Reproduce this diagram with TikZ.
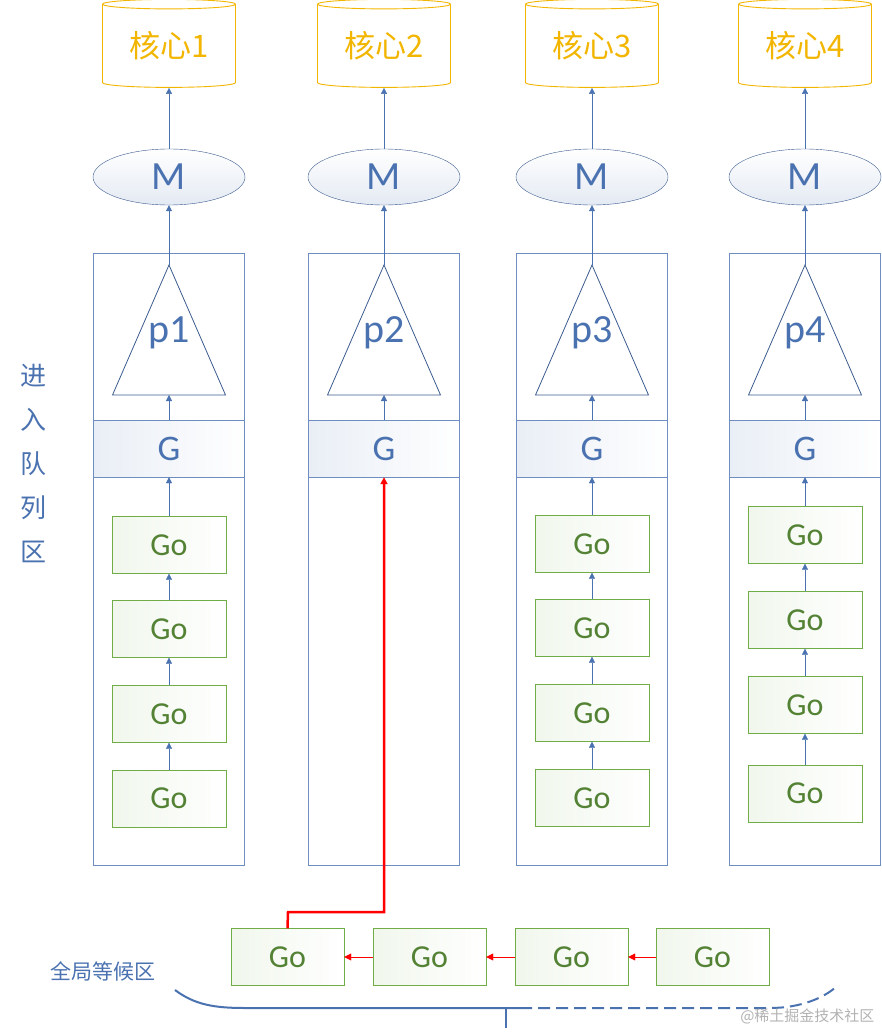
\documentclass[tikz,border=0pt]{standalone}
\usepackage{fontspec}
\setmainfont{Carlito}
\newfontfamily\cjk{Noto Sans CJK SC}
\usetikzlibrary{shapes.geometric,arrows.meta}
\definecolor{ln}{HTML}{4A72B0}
\definecolor{gb}{HTML}{70AD47}
\definecolor{gt}{HTML}{548235}
\definecolor{yl}{HTML}{F2B500}
\begin{document}
\begin{tikzpicture}[x=1pt,y=-1pt,
  core/.style={cylinder,shape border rotate=90,draw=yl,line width=0.9pt,aspect=0.12,minimum width=133pt,minimum height=88pt,text=yl,font=\cjk\fontsize{31}{34}\selectfont,inner sep=0pt},
  mm/.style={ellipse,draw=ln!80!black,top color=white,bottom color=ln!15,minimum width=152pt,minimum height=56pt,text=ln,font=\fontsize{40}{44}\selectfont,inner sep=0pt},
  col/.style={draw=ln!80,thin},
  gband/.style={draw=ln!80,left color=ln!12,right color=white,minimum width=151pt,minimum height=57pt,text=ln,font=\fontsize{36}{40}\selectfont,inner sep=0pt},
  gobox/.style={draw=gb,left color=gb!10,right color=white,minimum width=114pt,minimum height=57pt,text=gt,font=\fontsize{32}{36}\selectfont,inner sep=0pt},
  arr/.style={draw=ln,-{Triangle[length=6pt,width=6pt]}},
  rarr/.style={draw=red,-{Triangle[length=7pt,width=7pt]}},
  lbl/.style={text=ln,font=\cjk\fontsize{21}{24}\selectfont}]
\useasboundingbox (0,0) rectangle (882,1032);
\foreach \i/\x in {1/169,2/384,3/592,4/805}{
  \node[core] (c\i) at (\x,46) {核心\i};
  \node[mm] (m\i) at (\x,177) {M};
  \draw[col] (\x-75.5,253) rectangle (\x+75.5,865);
  \draw[ln!80!black,thick] (\x,265) -- (\x+56.5,395) -- (\x-56.5,395) -- cycle;
  \coordinate (tb\i) at (\x,395);
  \coordinate (ta\i) at (\x,265);
  \node[text=ln,font=\fontsize{40}{44}\selectfont] (p\i) at (\x,333) {p\i};
  \node[gband] (g\i) at (\x,448.5) {G};
  \draw[arr] (m\i.north) -- (c\i.south);
  \draw[arr] (ta\i) -- (m\i.south);
  \draw[arr] (g\i.north) -- (tb\i);
}
\foreach \c/\x/\a/\b/\cc/\d in {1/169/545/629/714/798.5, 3/592/544/628/713/798, 4/805/535/620/705/793.5}{
  \node[gobox] (q\c a) at (\x,\a) {Go};
  \node[gobox] (q\c b) at (\x,\b) {Go};
  \node[gobox] (q\c c) at (\x,\cc) {Go};
  \node[gobox] (q\c d) at (\x,\d) {Go};
  \draw[arr] (q\c a.north) -- (g\c.south);
  \draw[arr] (q\c b.north) -- (q\c a.south);
  \draw[arr] (q\c c.north) -- (q\c b.south);
  \draw[arr] (q\c d.north) -- (q\c c.south);
}
\node[gobox,minimum width=113pt] (w1) at (287.5,957) {Go};
\node[gobox,minimum width=113pt] (w2) at (429.5,957) {Go};
\node[gobox,minimum width=113pt] (w3) at (571.5,957) {Go};
\node[gobox,minimum width=113pt] (w4) at (712.5,957) {Go};
\draw[rarr] (w2.west) -- (w1.east);
\draw[rarr] (w3.west) -- (w2.east);
\draw[rarr] (w4.west) -- (w3.east);
\draw[rarr,line width=2.5pt] (w1.north) -- (288,912) -- (384,912) -- (g2.south);
\node[lbl,align=center,inner sep=0pt,font=\cjk\fontsize{26}{44}\selectfont] (side) at (33,463) {进\\入\\队\\列\\区};
\node[lbl,font=\cjk\fontsize{21}{24}\selectfont] (glob) at (103,971) {全局等候区};
\draw[ln,line width=2pt] (175,990) .. controls (195,1005) and (215,1008) .. (245,1008) -- (520,1008);
\draw[ln,line width=2pt,dash pattern=on 12pt off 6pt] (520,1008) -- (770,1008) .. controls (800,1008) and (825,998) .. (838,985);
\draw[ln,line width=2pt] (506,1008) -- (506,1028);
\node[text=gray!60,font=\cjk\fontsize{15}{18}\selectfont,anchor=east] (wm) at (878,1016) {@稀土掘金技术社区};
\end{tikzpicture}
\end{document}
